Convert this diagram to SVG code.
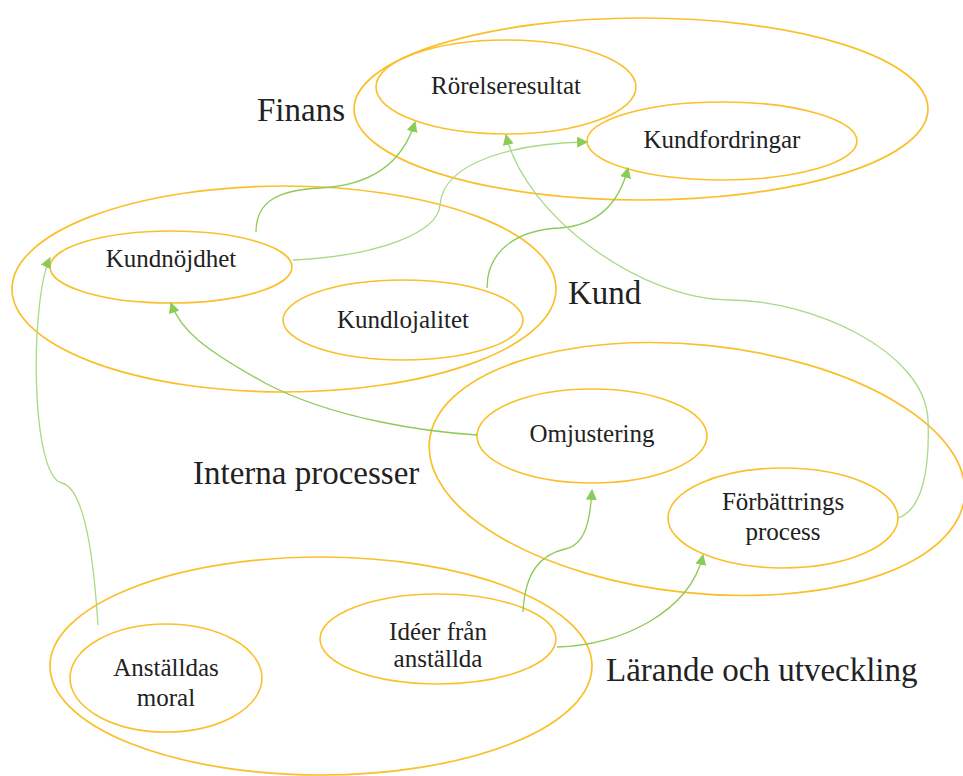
<svg xmlns="http://www.w3.org/2000/svg" width="963" height="776" viewBox="0 0 963 776">
  <defs>
    <style>
      .grp { fill: none; stroke: #FBBF2A; stroke-width: 1.7; }
      .node { fill: none; stroke: #FBBF2A; stroke-width: 1.6; }
      .lbl { font-family: "Liberation Serif", "Times New Roman", serif; font-size: 25px; fill: #222; text-anchor: middle; }
      .big { font-family: "Liberation Serif", "Times New Roman", serif; font-size: 33px; fill: #222; }
      .link { fill: none; stroke: #8CCB57; stroke-width: 1.3; marker-end: url(#arrow); }
      .light { stroke: #A8D985; }
    </style>
    <marker id="arrow" viewBox="0 0 10 10" refX="9" refY="5" markerWidth="11" markerHeight="11" markerUnits="userSpaceOnUse" orient="auto">
      <path d="M0,0 L10,5 L0,10 Z" fill="#8CCB57"/>
    </marker>
  </defs>

  <!-- perspective groups -->
  <g id="finans">
    <ellipse class="grp" cx="641" cy="109" rx="287" ry="91"/>
    <text class="big" x="257" y="121">Finans</text>
  </g>
  <g id="kund">
    <ellipse class="grp" cx="284" cy="289" rx="272" ry="103"/>
    <text class="big" x="568" y="304">Kund</text>
  </g>
  <g id="interna">
    <ellipse class="grp" cx="697" cy="469" rx="269" ry="124" transform="rotate(6 697 469)"/>
    <text class="big" x="193" y="484">Interna processer</text>
  </g>
  <g id="larande">
    <ellipse class="grp" cx="321" cy="666" rx="271" ry="109"/>
    <text class="big" x="606" y="681">Lärande och utveckling</text>
  </g>

  <!-- measures -->
  <g id="rorelseresultat">
    <ellipse class="node" cx="506" cy="87" rx="130" ry="47"/>
    <text class="lbl" x="506" y="94">Rörelseresultat</text>
  </g>
  <g id="kundfordringar">
    <ellipse class="node" cx="722" cy="141" rx="135" ry="39"/>
    <text class="lbl" x="722" y="148">Kundfordringar</text>
  </g>
  <g id="kundnojdhet">
    <ellipse class="node" cx="171" cy="267" rx="121" ry="36"/>
    <text class="lbl" x="171" y="267">Kundnöjdhet</text>
  </g>
  <g id="kundlojalitet">
    <ellipse class="node" cx="403" cy="320" rx="120" ry="40"/>
    <text class="lbl" x="403" y="328">Kundlojalitet</text>
  </g>
  <g id="omjustering">
    <ellipse class="node" cx="592" cy="436" rx="115" ry="47"/>
    <text class="lbl" x="592" y="442">Omjustering</text>
  </g>
  <g id="forbattring">
    <ellipse class="node" cx="783" cy="518" rx="115" ry="50"/>
    <text class="lbl" x="783" y="510">Förbättrings</text>
    <text class="lbl" x="783" y="540">process</text>
  </g>
  <g id="moral">
    <ellipse class="node" cx="166" cy="678" rx="96" ry="54"/>
    <text class="lbl" x="166" y="676">Anställdas</text>
    <text class="lbl" x="166" y="706">moral</text>
  </g>
  <g id="ideer">
    <ellipse class="node" cx="438" cy="639" rx="118" ry="45"/>
    <text class="lbl" x="438" y="640">Idéer från</text>
    <text class="lbl" x="438" y="667">anställda</text>
  </g>

  <!-- cause-and-effect links -->
  <g id="connectors">
    <path class="link" d="M256,232 C256,200 280,190 320,188 C380,185 405,155 415,122"/>
    <path class="link light" d="M293,260 C380,256 438,232 440,205 C443,160 520,143 587,142"/>
    <path class="link" d="M487,288 C487,252 515,230 560,228 C600,225 620,200 628,168"/>
    <path class="link light" d="M898,518 C922,510 930,470 928,420 C925,350 810,300 730,300 C640,300 525,215 506,135"/>
    <path class="link" d="M477,435 C430,432 335,420 265,383 C205,350 180,330 171,303"/>
    <path class="link light" d="M98,625 C95,580 88,490 62,483 C30,476 30,300 50,258"/>
    <path class="link" d="M523,612 C525,572 540,555 565,549 C585,545 590,522 592,490"/>
    <path class="link" d="M557,647 C620,646 690,612 703,555"/>
  </g>
</svg>
